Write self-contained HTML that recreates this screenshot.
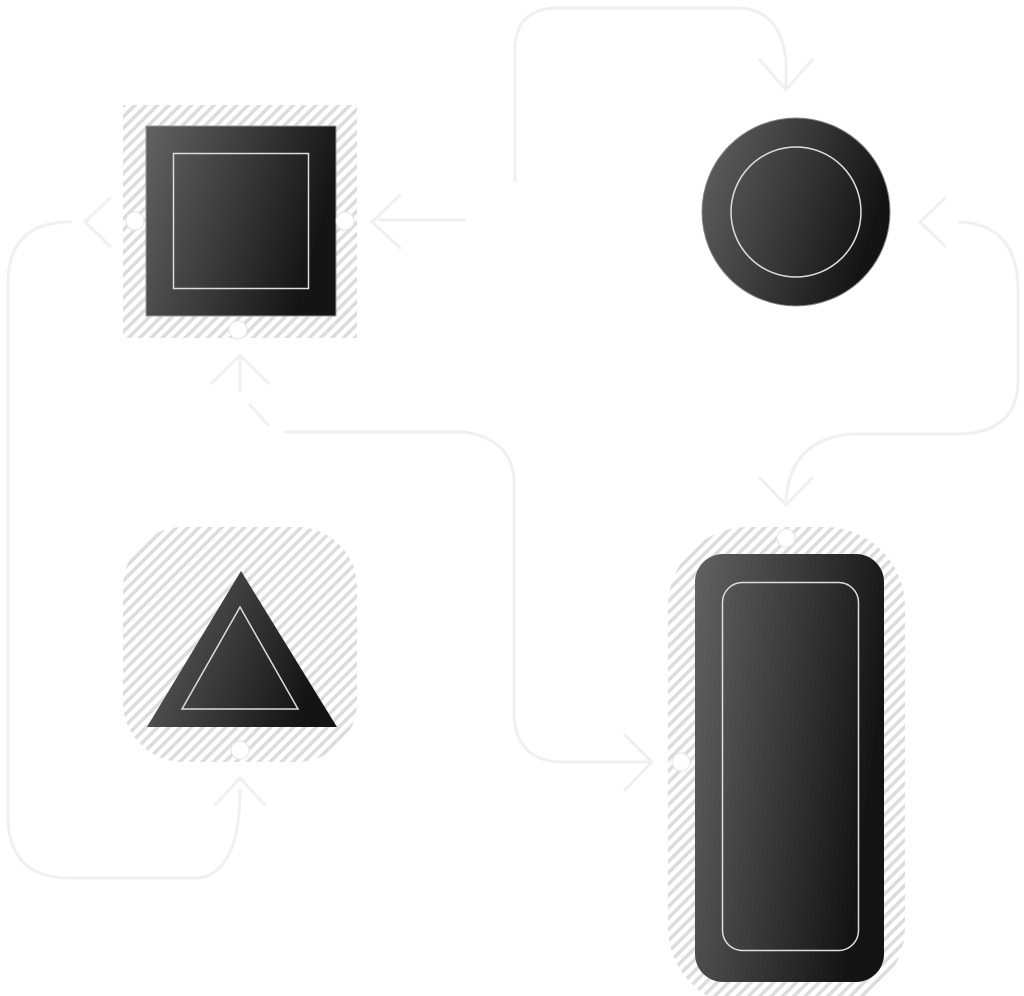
<!DOCTYPE html>
<html><head><style>html,body{margin:0;padding:0;background:#fff;}svg{display:block}</style></head>
<body>
<svg width="1024" height="996" viewBox="0 0 1024 996" xmlns="http://www.w3.org/2000/svg">
<defs>
<pattern id="h" width="8" height="8" patternUnits="userSpaceOnUse" patternTransform="rotate(45)">
<rect width="8" height="8" fill="#fff"/><rect width="3.5" height="8" fill="#dcdcdc"/></pattern>
<linearGradient id="g" x1="0" y1="0" x2="1" y2="0.3">
<stop offset="0" stop-color="#626262"/><stop offset="0.5" stop-color="#3c3c3c"/><stop offset="1" stop-color="#141414"/></linearGradient>
</defs>
<g fill="none" stroke="#f0f0f0" stroke-width="3" stroke-linecap="round">
<path d="M515 180 V50 Q515 10 555 8 H740 Q780 10 786 60 V90"/>
<path d="M760 60 L786 90 L812 60"/>
<path d="M465 220 H380 M400 195 L372 222 L400 248"/>
<path d="M110 198 L85 222 L110 246"/>
<path d="M70 222 Q10 222 8 280 V820 Q10 878 70 878 H200 Q240 870 240 790 M215 805 L240 778 L265 805"/>
<path d="M945 198 L920 222 L945 246 M960 222 Q1018 225 1018 290 V380 Q1018 432 960 434 H850 Q790 440 786 500 M760 478 L786 505 L812 478"/>
<path d="M285 432 H465 Q512 440 514 480 V715 Q516 760 560 762 H650 M625 735 L652 762 L625 790"/>
<path d="M240 390 L240 355 M212 383 L240 355 L268 383 M250 405 L268 425"/>
</g>
<rect x="123" y="105" width="234" height="233" fill="url(#h)"/>
<rect x="146" y="126" width="190" height="190" fill="url(#g)" stroke="#999" stroke-width="1"/>
<rect x="173.5" y="153.5" width="135" height="135" fill="none" stroke="#ddd" stroke-width="1.5"/>
<circle cx="796" cy="212" r="94" fill="url(#g)" stroke="#888" stroke-width="1"/>
<circle cx="796" cy="212" r="65" fill="none" stroke="#ddd" stroke-width="1.5"/>
<rect x="123" y="527" width="234" height="235" rx="60" fill="url(#h)"/>
<polygon points="241,571 147,727 337,727" fill="url(#g)"/>
<polygon points="240,607 182,709 298,709" fill="none" stroke="#ddd" stroke-width="1.5"/>
<rect x="668" y="527" width="237" height="480" rx="80" fill="url(#h)"/>
<rect x="695" y="554" width="189" height="428" rx="28" fill="url(#g)"/>
<rect x="722.5" y="582.5" width="136" height="368" rx="20" fill="none" stroke="#ddd" stroke-width="1.5"/>
<g fill="#fff" stroke="#e4e4e4" stroke-width="1">
<circle cx="135" cy="221" r="9"/><circle cx="345" cy="221" r="9"/><circle cx="238" cy="330" r="9"/>
<circle cx="240" cy="750" r="9"/><circle cx="786" cy="538" r="9"/><circle cx="681" cy="762" r="9"/>
</g>
</svg>
</body></html>
